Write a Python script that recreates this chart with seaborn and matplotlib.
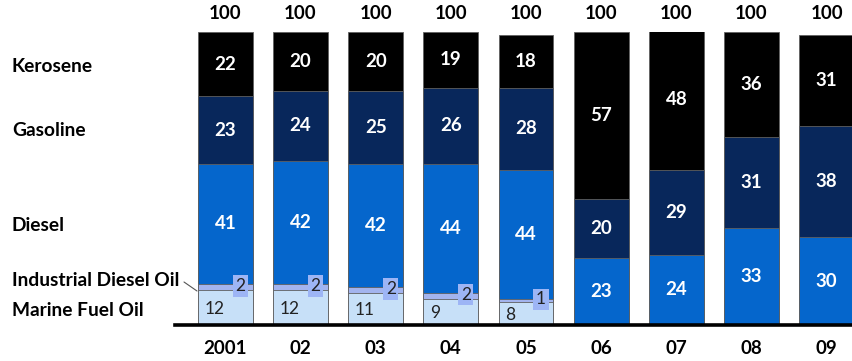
import matplotlib
matplotlib.use("Agg")
import matplotlib.pyplot as plt
import seaborn as sns
import numpy as np
import pandas as pd

years = ["2001", "02", "03", "04", "05", "06", "07", "08", "09"]
marine_fuel_oil = [12, 12, 11, 9, 8, 0, 0, 0, 0]
industrial_diesel_oil = [2, 2, 2, 2, 1, 0, 0, 0, 0]
diesel = [41, 42, 42, 44, 44, 23, 24, 33, 30]
gasoline = [23, 24, 25, 26, 28, 20, 29, 31, 38]
kerosene = [22, 20, 20, 19, 18, 57, 48, 36, 31]
totals = [100] * 9

series_names = ["Marine Fuel Oil", "Industrial Diesel Oil", "Diesel", "Gasoline", "Kerosene"]
series_vals = [marine_fuel_oil, industrial_diesel_oil, diesel, gasoline, kerosene]
colors = ["#c7e0f8", "#a3b4ee", "#0566cc", "#08275b", "#000000"]

sns.set_theme(style="white")
plt.rcParams["font.family"] = ["Lato", "DejaVu Sans"]

fig = plt.figure(figsize=(8.53, 3.61), dpi=100)
ax = fig.add_axes([175 / 853, 36 / 361, 1 - 175 / 853, (325 - 32) / 361])

vals = np.array(series_vals, dtype=float)
cum = np.cumsum(vals, axis=0)

# draw from top cumulative down so lower segments overlay
for i in range(len(series_names) - 1, -1, -1):
    df = pd.DataFrame({"year": years, "v": cum[i]})
    sns.barplot(data=df, x="year", y="v", color=colors[i], saturation=1,
                width=0.73, edgecolor="#606060", linewidth=0.6, ax=ax,
                order=years)

ax.set_xlim(-0.67, 8.35)
ax.set_ylim(0, 100)
ax.set_xlabel("")
ax.set_ylabel("")
ax.set_yticks([])
for s in ["left", "right", "top"]:
    ax.spines[s].set_visible(False)
ax.spines["bottom"].set_color("black")
ax.spines["bottom"].set_linewidth(2.6)
ax.tick_params(axis="x", length=0, pad=11)
for lab in ax.get_xticklabels():
    lab.set_fontweight("bold")
    lab.set_fontsize(13.5)
    lab.set_color("black")

hw = 0.73 / 2
for j in range(len(years)):
    # totals
    ax.text(j, 103.3, str(totals[j]), ha="center", va="bottom", fontsize=13.5,
            fontweight="bold", color="black", clip_on=False)
    # marine fuel oil
    if marine_fuel_oil[j] > 0:
        ax.text(j - hw + 0.09, marine_fuel_oil[j] / 2 - 0.5, str(marine_fuel_oil[j]),
                ha="left", va="center", fontsize=12.5, color="#222222")
    if industrial_diesel_oil[j] > 0:
        yc = cum[0][j] + industrial_diesel_oil[j] / 2 + 0.3
        ax.text(j + 0.2, yc, str(industrial_diesel_oil[j]), ha="center", va="center",
                fontsize=12.5, color="#222222",
                bbox=dict(boxstyle="square,pad=0.15", fc="#9db5f5", ec="none"))
    for i in (2, 3, 4):
        v = vals[i][j]
        if v > 0:
            yc = cum[i][j] - v / 2
            ax.text(j, yc, str(int(v)), ha="center", va="center", fontsize=13.5,
                    fontweight="bold", color="white")

# left category labels
left_labels = [("Kerosene", 66), ("Gasoline", 130), ("Diesel", 225),
               ("Industrial Diesel Oil", 280), ("Marine Fuel Oil", 310)]
for txt, ypix in left_labels:
    fig.text(12 / 853, 1 - ypix / 361, txt, ha="left", va="center",
             fontsize=13.8, fontweight="bold", color="black")

# leader line for Industrial Diesel Oil
fig.add_artist(plt.Line2D([184 / 853, 197 / 853], [1 - 282 / 361, 1 - 291 / 361],
                          color="#555555", linewidth=0.8))

fig.savefig("out.png", dpi=100)
